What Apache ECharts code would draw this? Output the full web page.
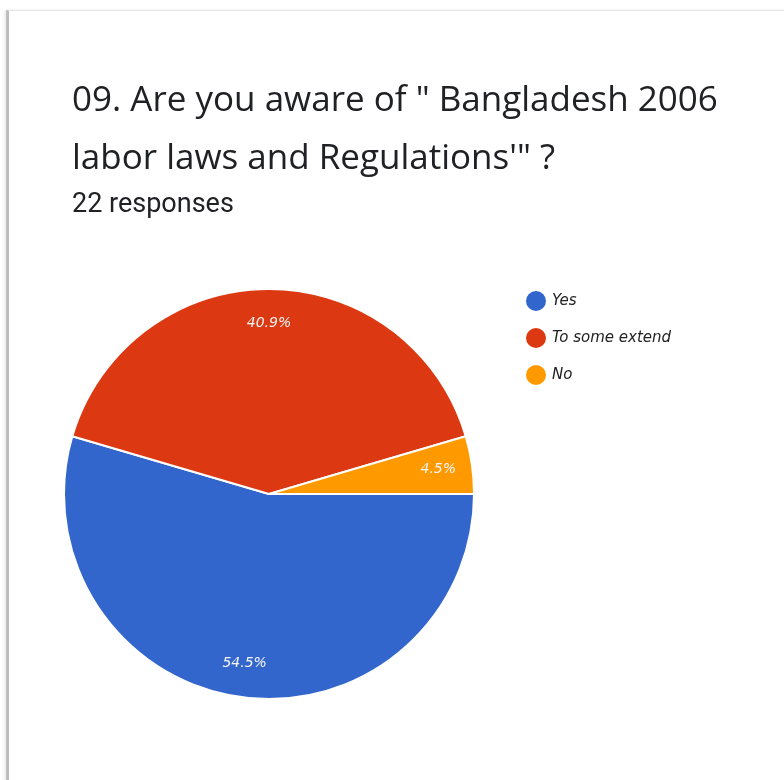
<!DOCTYPE html>
<html>
<head>
<meta charset="utf-8">
<script src="https://cdn.jsdelivr.net/npm/echarts@6/dist/echarts.min.js"></script>
<style>
  html, body { margin: 0; padding: 0; background: #ffffff; }
  #frame {
    position: absolute; left: 6px; top: 10px; width: 790px; height: 780px;
    border-left: 3px solid #bdbdbd; border-top: 1px solid #e4e4e4;
    box-shadow: -2px 0 3px rgba(0,0,0,0.08);
    background: #ffffff; z-index: 0;
  }
  #chart { position: absolute; left: 0; top: 0; width: 784px; height: 780px; z-index: 1; }
</style>
</head>
<body>
<div id="frame"></div>
<div id="chart"></div>
<script>
// 问卷第9题 饼图
var categories = ['Yes', 'To some extend', 'No'];
var counts = [12, 9, 1];
var colors = ['#3366cc', '#dc3912', '#ff9900'];

var pieData = [];
for (var i = 0; i < categories.length; i++) {
    pieData.push({ name: categories[i], value: counts[i] });
}

var chart = echarts.init(document.getElementById('chart'));
var option = {
    color: colors,
    title: {
        text: '09. Are you aware of " Bangladesh 2006\nlabor laws and Regulations\'" ?',
        subtext: '22 responses',
        left: 67,
        top: 67,
        itemGap: 2,
        textStyle: {
            fontFamily: 'Open Sans',
            fontSize: 35,
            fontWeight: 'normal',
            lineHeight: 58,
            color: '#202124'
        },
        subtextStyle: {
            fontFamily: 'Roboto',
            fontSize: 27,
            lineHeight: 30,
            color: '#202124'
        }
    },
    legend: {
        orient: 'vertical',
        left: 519,
        top: 284,
        icon: 'circle',
        itemWidth: 22,
        itemHeight: 22,
        itemGap: 13,
        data: categories,
        textStyle: {
            fontFamily: 'DejaVu Sans',
            fontStyle: 'italic',
            fontSize: 15,
            color: '#222'
        }
    },
    series: [{
        // 饼图本体
        type: 'pie',
        center: [269, 494],
        radius: [0, 205],
        startAngle: 0,
        clockwise: true,
        silent: true,
        itemStyle: { borderColor: '#ffffff', borderWidth: 2 },
        label: { show: false },
        labelLine: { show: false },
        data: pieData
    }, {
        // 只用来放百分比标签
        type: 'pie',
        center: [269, 494],
        radius: [131, 205],
        startAngle: 0,
        clockwise: true,
        silent: true,
        itemStyle: { color: 'rgba(0,0,0,0)' },
        label: {
            show: true,
            position: 'inside',
            formatter: function (p) { return p.percent.toFixed(1) + '%'; },
            fontFamily: 'DejaVu Sans',
            fontStyle: 'italic',
            fontSize: 14,
            color: '#f4f4f4'
        },
        labelLine: { show: false },
        data: pieData
    }]
};
chart.setOption(option);
</script>
</body>
</html>
